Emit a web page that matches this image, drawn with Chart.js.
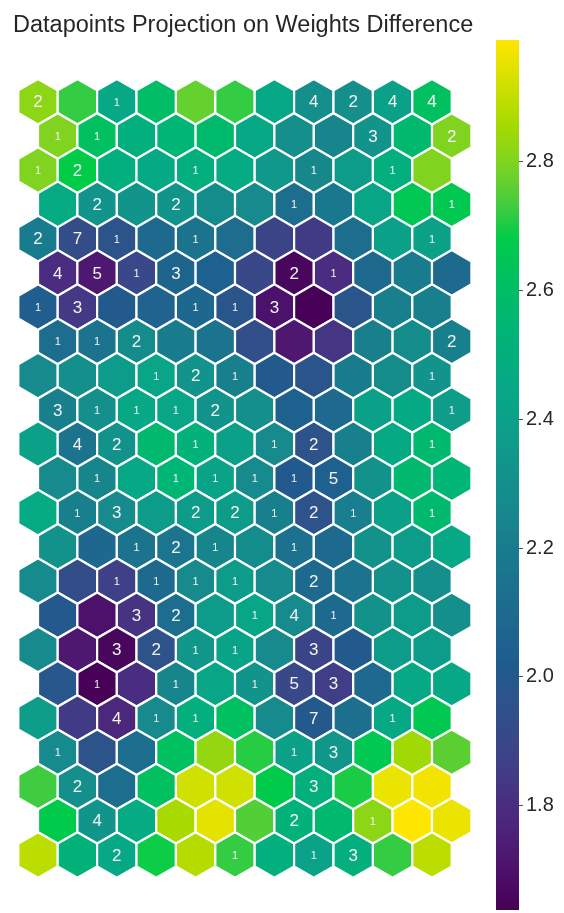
<!DOCTYPE html>
<html>
<head>
<meta charset="utf-8">
<script src="https://cdn.jsdelivr.net/npm/chart.js@4/dist/chart.umd.min.js"></script>
<style>
  html, body { margin: 0; padding: 0; background: #ffffff; }
  #wrap { width: 564px; height: 913px; }
</style>
</head>
<body>
<div id="wrap"><canvas id="c" width="564" height="913"></canvas></div>
<script>
// ---- data ----
const chartTitle = 'Datapoints Projection on Weights Difference';
const gridRows = 23;
const gridCols = 11;
// mean weight difference per SOM node (row 0 = top)
const hexValues = [
  [2.82, 2.72, 2.45, 2.60, 2.77, 2.72, 2.45, 2.30, 2.30, 2.40, 2.62],
  [2.80, 2.62, 2.50, 2.55, 2.58, 2.45, 2.30, 2.25, 2.32, 2.57, 2.80],
  [2.80, 2.68, 2.50, 2.46, 2.50, 2.47, 2.35, 2.26, 2.37, 2.50, 2.80],
  [2.47, 2.32, 2.33, 2.32, 2.28, 2.27, 2.12, 2.18, 2.43, 2.65, 2.66],
  [2.20, 1.93, 1.97, 2.10, 2.15, 2.11, 1.88, 1.85, 2.12, 2.40, 2.40],
  [1.80, 1.72, 1.90, 2.07, 2.05, 1.90, 1.66, 1.80, 2.10, 2.20, 2.10],
  [2.03, 1.84, 2.01, 2.06, 2.08, 1.98, 1.70, 1.64, 1.98, 2.22, 2.22],
  [2.12, 2.15, 2.28, 2.20, 2.15, 1.94, 1.72, 1.83, 2.22, 2.28, 2.22],
  [2.27, 2.30, 2.37, 2.43, 2.32, 2.22, 2.01, 1.98, 2.20, 2.28, 2.32],
  [2.22, 2.30, 2.45, 2.43, 2.32, 2.30, 2.05, 2.10, 2.40, 2.46, 2.38],
  [2.40, 2.15, 2.31, 2.57, 2.52, 2.40, 2.27, 1.96, 2.22, 2.46, 2.57],
  [2.27, 2.25, 2.45, 2.55, 2.42, 2.27, 2.01, 2.05, 2.31, 2.57, 2.55],
  [2.47, 2.22, 2.27, 2.37, 2.37, 2.37, 2.22, 1.96, 2.21, 2.40, 2.57],
  [2.31, 2.08, 2.15, 2.16, 2.25, 2.28, 2.14, 2.10, 2.31, 2.37, 2.45],
  [2.27, 1.93, 1.87, 2.10, 2.27, 2.37, 2.27, 2.10, 2.15, 2.31, 2.30],
  [2.00, 1.70, 1.82, 2.12, 2.37, 2.44, 2.27, 2.10, 2.31, 2.37, 2.30],
  [2.27, 1.72, 1.66, 1.96, 2.34, 2.42, 2.27, 1.88, 2.01, 2.37, 2.37],
  [1.99, 1.64, 1.80, 2.25, 2.43, 2.32, 1.90, 1.86, 2.10, 2.45, 2.45],
  [2.38, 1.85, 1.78, 2.27, 2.50, 2.62, 2.27, 2.00, 2.13, 2.45, 2.66],
  [2.27, 1.97, 2.12, 2.62, 2.83, 2.71, 2.40, 2.34, 2.66, 2.85, 2.76],
  [2.73, 2.30, 2.12, 2.62, 2.92, 2.92, 2.67, 2.50, 2.70, 2.96, 2.97],
  [2.67, 2.33, 2.47, 2.86, 2.95, 2.75, 2.52, 2.57, 2.82, 2.99, 2.96],
  [2.89, 2.52, 2.45, 2.69, 2.88, 2.72, 2.50, 2.41, 2.50, 2.72, 2.89]
];
// number of datapoints projected on each node (0 = no label)
const hexCounts = [
  [2,0,1,0,0,0,0,4,2,4,4],
  [1,1,0,0,0,0,0,0,3,0,2],
  [1,2,0,0,1,0,0,1,0,1,0],
  [0,2,0,2,0,0,1,0,0,0,1],
  [2,7,1,0,1,0,0,0,0,0,1],
  [4,5,1,3,0,0,2,1,0,0,0],
  [1,3,0,0,1,1,3,0,0,0,0],
  [1,1,2,0,0,0,0,0,0,0,2],
  [0,0,0,1,2,1,0,0,0,0,1],
  [3,1,1,1,2,0,0,0,0,0,1],
  [0,4,2,0,1,0,1,2,0,0,1],
  [0,1,0,1,1,1,1,5,0,0,0],
  [0,1,3,0,2,2,1,2,1,0,1],
  [0,0,1,2,1,0,1,0,0,0,0],
  [0,0,1,1,1,1,0,2,0,0,0],
  [0,0,3,2,0,1,4,1,0,0,0],
  [0,0,3,2,1,1,0,3,0,0,0],
  [0,1,0,1,0,1,5,3,0,0,0],
  [0,0,4,1,1,0,0,7,0,1,0],
  [1,0,0,0,0,0,1,3,0,0,0],
  [0,2,0,0,0,0,0,3,0,0,0],
  [0,4,0,0,0,0,2,0,1,0,0],
  [0,0,2,0,0,1,0,1,3,0,0]
];
const colorbarTicks = [1.8, 2.0, 2.2, 2.4, 2.6, 2.8];
const colorMin = 1.638;
const colorMax = 2.989;

// ---- colour map (viridis-like, as rendered in the reference) ----
const cmapStops = [
  [1.638, '#470056'], [1.72, '#4e1770'], [1.80, '#4a2d80'], [1.88, '#3c4488'],
  [1.96, '#2e528a'], [2.02, '#1f5c8e'], [2.10, '#1e6a8e'], [2.18, '#1a788e'],
  [2.27, '#168a8c'], [2.36, '#0f9a8a'], [2.45, '#06a886'], [2.55, '#00b674'],
  [2.62, '#00c060'], [2.68, '#00cc48'], [2.73, '#40cc40'], [2.80, '#80d420'],
  [2.86, '#a8da00'], [2.92, '#d0e000'], [2.989, '#ffe600']
];
function hexToRgb(h) { const n = parseInt(h.slice(1), 16); return [(n >> 16) & 255, (n >> 8) & 255, n & 255]; }
const cmapRgb = cmapStops.map(s => [s[0], hexToRgb(s[1])]);
function cmap(v) {
  if (v <= cmapRgb[0][0]) return 'rgb(' + cmapRgb[0][1].join(',') + ')';
  for (let i = 1; i < cmapRgb.length; i++) {
    if (v <= cmapRgb[i][0]) {
      const a = cmapRgb[i - 1], b = cmapRgb[i];
      const t = (v - a[0]) / (b[0] - a[0]);
      const c = a[1].map((x, k) => Math.round(x + (b[1][k] - x) * t));
      return 'rgb(' + c.join(',') + ')';
    }
  }
  return 'rgb(' + cmapRgb[cmapRgb.length - 1][1].join(',') + ')';
}

// ---- build points: odd rows offset by half a column ----
const SQ3 = Math.sqrt(3);
const points = [];
for (let r = 0; r < gridRows; r++) {
  for (let c = 0; c < gridCols; c++) {
    points.push({ x: c + (r % 2) * 0.5, y: r * SQ3 / 2, v: hexValues[r][c], n: hexCounts[r][c] });
  }
}

// axis ranges chosen so that both axes share the same pixel/unit ratio
const X_MIN = -0.635, X_MAX = 12.208;
const Y_MIN = -1.56, Y_MAX = 20.443;

const FONT = "'Liberation Sans', Arial, Helvetica, sans-serif";

const hexPlugin = {
  id: 'hexPlugin',
  beforeDatasetsDraw(chart) {
    const ctx = chart.ctx;
    const cb = chart.scales.cb;
    const ca = chart.chartArea;
    const barW = 23;
    const bx = ca.right - barW;
    for (let py = Math.floor(cb.top); py < Math.ceil(cb.bottom); py++) {
      ctx.fillStyle = cmap(cb.getValueForPixel(py + 0.5));
      ctx.fillRect(bx, py, barW, 1);
    }
  },
  afterDatasetsDraw(chart) {
    const ctx = chart.ctx;
    const xs = chart.scales.x;
    const R = (xs.getPixelForValue(1) - xs.getPixelForValue(0)) / SQ3;
    const meta = chart.getDatasetMeta(0);
    const data = chart.data.datasets[0].data;
    ctx.save();
    meta.data.forEach((el, i) => {
      const d = data[i];
      const cx = el.x, cy = el.y;
      ctx.beginPath();
      for (let k = 0; k < 6; k++) {
        const a = Math.PI / 180 * (60 * k - 90);
        const px = cx + R * Math.cos(a), py = cy + R * Math.sin(a);
        if (k === 0) ctx.moveTo(px, py); else ctx.lineTo(px, py);
      }
      ctx.closePath();
      ctx.fillStyle = cmap(d.v);
      ctx.fill();
      ctx.lineWidth = 2.2;
      ctx.strokeStyle = '#ffffff';
      ctx.stroke();
    });
    ctx.textAlign = 'center';
    ctx.textBaseline = 'middle';
    ctx.fillStyle = '#f4f4f4';
    meta.data.forEach((el, i) => {
      const d = data[i];
      if (!d.n) return;
      const size = d.n === 1 ? 11 : 17;
      ctx.font = size + 'px ' + FONT;
      ctx.fillText(String(d.n), el.x, el.y + 1);
    });
    ctx.restore();
  }
};

new Chart(document.getElementById('c'), {
  type: 'scatter',
  data: { datasets: [{ data: points, pointRadius: 0, pointHoverRadius: 0, xAxisID: 'x', yAxisID: 'y' }] },
  options: {
    responsive: false,
    devicePixelRatio: 1,
    animation: false,
    events: [],
    layout: { padding: { left: 13, right: 0, top: 0, bottom: 3 } },
    plugins: {
      legend: { display: false },
      tooltip: { enabled: false },
      title: {
        display: true, text: chartTitle, align: 'start', color: '#262626',
        font: { family: FONT, size: 23.5, weight: 'normal' },
        padding: { top: 11, bottom: 0.8 }
      }
    },
    scales: {
      x: { type: 'linear', display: false, min: X_MIN, max: X_MAX },
      y: { type: 'linear', display: false, reverse: true, min: Y_MIN, max: Y_MAX },
      cb: {
        type: 'linear', position: 'right', min: colorMin, max: colorMax,
        afterBuildTicks: s => { s.ticks = colorbarTicks.map(v => ({ value: v })); },
        afterFit: s => { s.width = 45; s.paddingTop = 0; s.paddingBottom = 0; },
        ticks: {
          color: '#262626', padding: 3,
          font: { family: FONT, size: 20 },
          callback: v => Number(v).toFixed(1)
        },
        grid: { drawOnChartArea: false, drawTicks: true, tickLength: 4, color: '#555' },
        border: { display: false }
      }
    }
  },
  plugins: [hexPlugin]
});
</script>
</body>
</html>
